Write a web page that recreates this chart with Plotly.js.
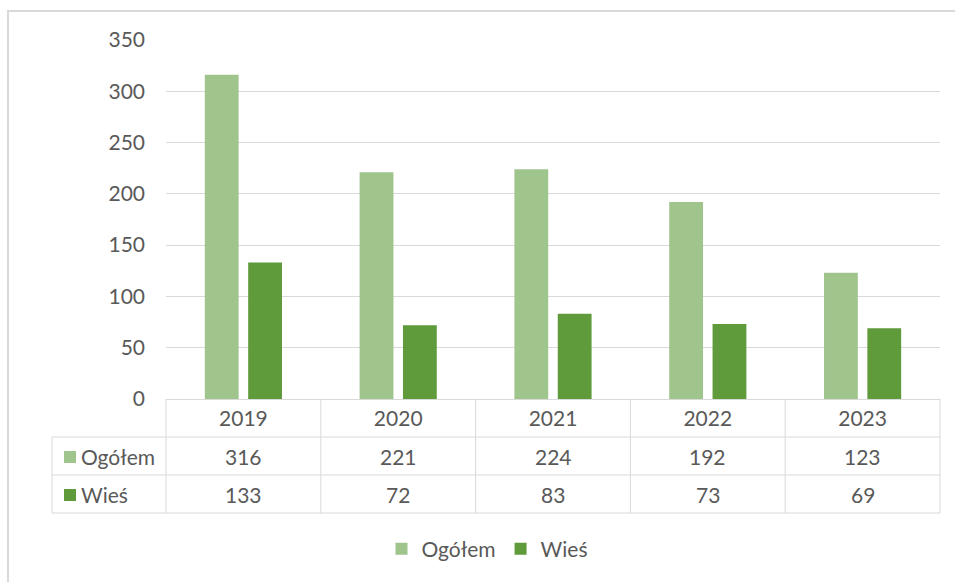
<!DOCTYPE html>
<html>
<head>
<meta charset="utf-8">
<script src="https://cdn.plot.ly/plotly-3.0.1.min.js"></script>
<style>html,body{margin:0;padding:0;background:#fff;}#chart{width:955px;height:582px;}</style>
</head>
<body>
<div id="chart"></div>
<script>
const years = ["2019", "2020", "2021", "2022", "2023"];
const seriesNames = ["Ogółem", "Wieś"];
const ogolem = [316, 221, 224, 192, 123];
const wies = [133, 72, 83, 73, 69];
const colors = ["#9fc48c", "#5f9a3b"];

const W = 955, H = 582;
const M = {l: 166, r: 15, t: 40, b: 183};
const PW = W - M.l - M.r, PH = H - M.t - M.b;
const px = x => (x - M.l) / PW;           // pixel -> paper x
const py = y => (H - M.b - y) / PH;       // pixel -> paper y

const FONT = "Lato, 'Open Sans', sans-serif";
const TXT = "#595959";
const LINE = "#d9d9d9";

const traces = [
  {type: "bar", name: seriesNames[0], x: years, y: ogolem, marker: {color: colors[0]}, hoverinfo: "skip"},
  {type: "bar", name: seriesNames[1], x: years, y: wies, marker: {color: colors[1]}, hoverinfo: "skip"}
];

const rowY = [py(456), py(494)];
const tableBottom = py(513);
const tableLeft = px(52);
const shapes = [];
const annotations = [];

// horizontal table lines
[437, 475, 513].forEach(y => shapes.push({type: "line", xref: "paper", yref: "paper",
  x0: tableLeft, x1: 1, y0: py(y), y1: py(y), line: {color: LINE, width: 1}}));
// vertical lines at category boundaries
for (let k = 0; k <= years.length; k++) {
  shapes.push({type: "line", xref: "paper", yref: "paper", x0: k / years.length, x1: k / years.length,
    y0: 0, y1: tableBottom, line: {color: LINE, width: 1}});
}
shapes.push({type: "line", xref: "paper", yref: "paper", x0: tableLeft, x1: tableLeft,
  y0: py(437), y1: tableBottom, line: {color: LINE, width: 1}});

// row label swatches
[[451, 463], [489, 501]].forEach((r, i) => shapes.push({type: "rect", xref: "paper", yref: "paper",
  x0: px(64), x1: px(76), y0: py(r[1]), y1: py(r[0]), line: {width: 0}, fillcolor: colors[i]}));

// outer frame
shapes.push({type: "rect", xref: "paper", yref: "paper", x0: px(8), x1: px(970), y0: py(600), y1: py(11),
  line: {color: LINE, width: 2}, fillcolor: "rgba(0,0,0,0)", layer: "below"});

// row labels
seriesNames.forEach((n, i) => annotations.push({xref: "paper", yref: "paper", x: px(79), y: rowY[i],
  xanchor: "left", yanchor: "middle", text: n, showarrow: false, font: {family: FONT, size: 21, color: TXT}}));
// table values (x = category index on the category axis)
[ogolem, wies].forEach((vals, i) => vals.forEach((v, j) => annotations.push({xref: "x", yref: "paper",
  x: j, y: rowY[i], xanchor: "center", yanchor: "middle", text: String(v), showarrow: false,
  font: {family: FONT, size: 21, color: TXT}})));

const layout = {
  width: W, height: H,
  margin: M,
  paper_bgcolor: "#fff", plot_bgcolor: "#fff",
  font: {family: FONT, color: TXT, size: 21},
  barmode: "group", bargap: 0.44, bargroupgap: 0.22,
  xaxis: {type: "category", range: [-0.5, 4.5], showgrid: false, showline: true, linecolor: LINE, linewidth: 1,
    ticks: "", tickfont: {family: FONT, size: 21, color: TXT}, ticklabelstandoff: 1, fixedrange: true},
  yaxis: {range: [0, 350], dtick: 50, showgrid: true, gridcolor: LINE, gridwidth: 1, zeroline: false,
    showline: false, ticks: "", tickfont: {family: FONT, size: 21, color: TXT}, ticklabelstandoff: 20, fixedrange: true},
  showlegend: true,
  legend: {orientation: "h", xref: "container", yref: "container", x: 487 / W, y: (H - 549) / H,
    xanchor: "center", yanchor: "middle", font: {family: FONT, size: 21, color: TXT}, bgcolor: "rgba(0,0,0,0)"},
  shapes: shapes,
  annotations: annotations
};

Plotly.newPlot("chart", traces, layout, {displayModeBar: false, staticPlot: true});
</script>
</body>
</html>
